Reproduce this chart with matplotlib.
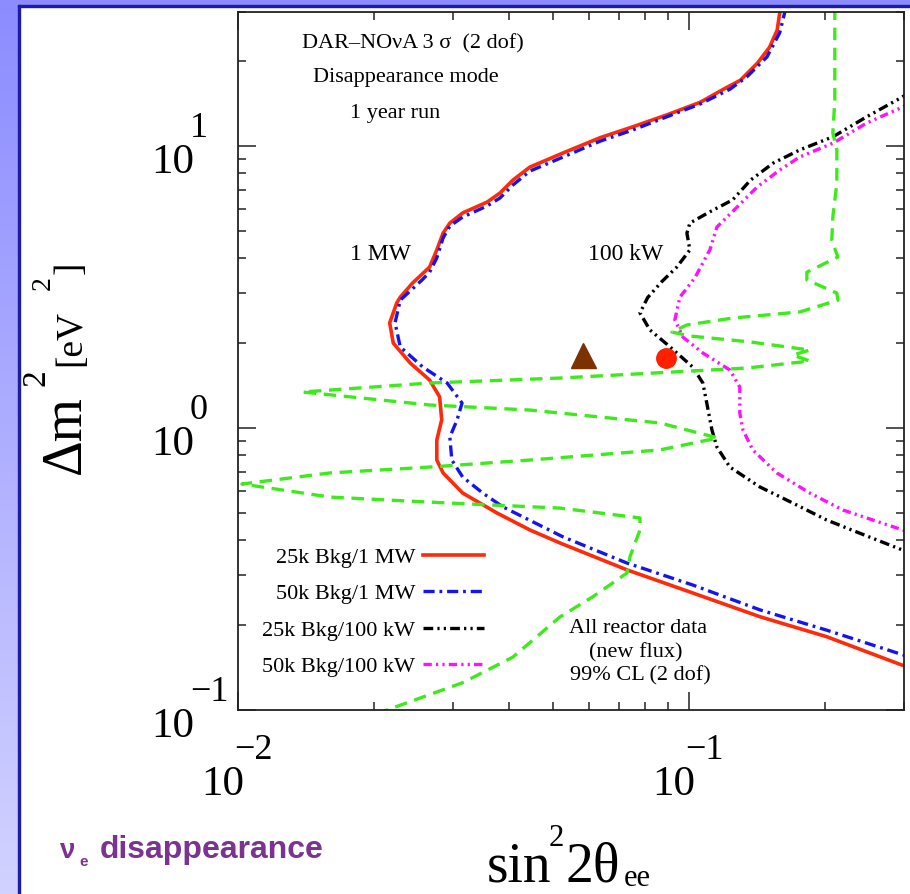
import matplotlib
matplotlib.use('Agg')
import matplotlib.pyplot as plt
import matplotlib.transforms as mtransforms
from matplotlib.colors import LinearSegmentedColormap
from matplotlib.patches import Rectangle
from matplotlib.ticker import LogLocator, NullFormatter
import numpy as np

plt.rcParams['lines.scale_dashes'] = False
plt.rcParams['font.family'] = ['Liberation Serif', 'DejaVu Serif']

# ---- data (sin^2 2theta, dm^2 in eV^2) ----
red_x = [0.160, 0.159, 0.157, 0.151, 0.142, 0.130, 0.121, 0.106, 0.0894, 0.0751, 0.0635,
         0.0526, 0.0444, 0.0407, 0.0381, 0.0357, 0.0315, 0.0295, 0.0285, 0.0276, 0.0266,
         0.0244, 0.0229, 0.0225, 0.0217, 0.0221, 0.0241, 0.0266, 0.0280, 0.0283, 0.0276,
         0.0276, 0.0285, 0.0315, 0.0375, 0.0444, 0.0518, 0.0729, 0.102, 0.144, 0.202, 0.298, 0.31]
red_y = [31.0, 29.6, 25.8, 22.4, 19.7, 17.1, 16.1, 14.3, 12.9, 11.7, 10.7,
         9.45, 8.42, 7.57, 6.81, 6.33, 5.79, 5.33, 4.91, 4.28, 3.72,
         3.27, 2.91, 2.78, 2.36, 2.00, 1.70, 1.48, 1.29, 1.07, 0.906,
         0.770, 0.693, 0.588, 0.500, 0.435, 0.391, 0.314, 0.260, 0.214, 0.182, 0.144, 0.141]

blue_x = [0.164, 0.163, 0.159, 0.149, 0.1345, 0.1233, 0.106, 0.0894, 0.0751, 0.0635, 0.0526,
          0.0444, 0.0407, 0.0381, 0.0357, 0.0315, 0.0295, 0.0285, 0.0276, 0.0266, 0.0256,
          0.0229, 0.0223, 0.0229, 0.0257, 0.0291, 0.0314, 0.0306, 0.0295, 0.0298, 0.0315,
          0.0349, 0.0387, 0.0526, 0.0729, 0.102, 0.144, 0.202, 0.298, 0.31]
blue_y = [31.0, 29.6, 25.2, 20.7, 17.6, 15.9, 14.1, 12.7, 11.4, 10.4, 9.14,
          8.15, 7.27, 6.54, 6.13, 5.60, 5.20, 4.72, 4.01, 3.57, 3.35,
          2.84, 2.36, 1.94, 1.645, 1.444, 1.226, 1.067, 0.929, 0.770, 0.670,
          0.588, 0.525, 0.411, 0.332, 0.2775, 0.2263, 0.192, 0.157, 0.154]

black_x = [0.31, 0.297, 0.248, 0.209, 0.176, 0.154, 0.137, 0.125, 0.111, 0.1005, 0.099,
           0.1005, 0.094, 0.087, 0.081, 0.0779, 0.0819, 0.0908, 0.102, 0.1074, 0.110,
           0.1125, 0.1154, 0.1233, 0.1437, 0.170, 0.202, 0.239, 0.298, 0.31]
black_y = [15.6, 14.9, 12.7, 10.8, 9.68, 8.71, 7.57, 6.44, 5.83, 5.33, 4.91,
           4.28, 3.72, 3.30, 2.90, 2.56, 2.23, 1.94, 1.645, 1.444, 1.187,
           0.984, 0.856, 0.727, 0.618, 0.542, 0.472, 0.424, 0.369, 0.362]

mag_x = [0.31, 0.298, 0.248, 0.209, 0.176, 0.159, 0.1416, 0.128, 0.1154, 0.1113, 0.103,
         0.0955, 0.0931, 0.097, 0.1074, 0.1233, 0.1297, 0.1297, 0.1318, 0.1386, 0.1567,
         0.1855, 0.2196, 0.298, 0.31]
mag_y = [14.3, 13.75, 12.07, 10.25, 9.14, 8.22, 7.15, 6.08, 5.16, 4.28, 3.40,
         2.91, 2.42, 2.10, 1.845, 1.606, 1.398, 1.13, 0.984, 0.836, 0.693,
         0.588, 0.512, 0.435, 0.428]

green_x = [0.2107, 0.2107, 0.2086, 0.2129, 0.2129, 0.2086, 0.2075, 0.2140, 0.1827, 0.1827,
           0.2129, 0.2140, 0.1762, 0.1252, 0.0990, 0.0917, 0.1005, 0.1366, 0.1855, 0.1701,
           0.1855, 0.1345, 0.0518, 0.0266, 0.0139, 0.0266, 0.0444, 0.0862, 0.1160, 0.0862,
           0.0444, 0.0266, 0.0160, 0.0102, 0.0160, 0.0266, 0.0518, 0.0779, 0.0779, 0.0740,
           0.0729, 0.0612, 0.0518, 0.0407, 0.0315, 0.0214, 0.0200]
green_y = [31.0, 14.56, 11.12, 9.68, 7.39, 5.60, 4.64, 4.04, 3.57, 3.35,
           3.01, 2.84, 2.58, 2.455, 2.32, 2.19, 2.12, 2.02, 1.89, 1.815,
           1.728, 1.632, 1.504, 1.444, 1.342, 1.207, 1.158, 1.042, 0.922, 0.836,
           0.770, 0.727, 0.693, 0.633, 0.569, 0.546, 0.520, 0.480, 0.435, 0.349,
           0.306, 0.252, 0.214, 0.154, 0.125, 0.100, 0.096]

tri_x, tri_y = [0.0582], [1.815]
dot_x, dot_y = [0.0889], [1.77]

legend_labels = ['25k Bkg/1 MW', '50k Bkg/1 MW', '25k Bkg/100 kW', '50k Bkg/100 kW']
ytick_vals = [0.1, 1, 10]
ytick_exp = ['\u22121', '0', '1']
xtick_vals = [0.01, 0.1]
xtick_exp = ['\u22122', '\u22121']

W, H = 910, 894
fig = plt.figure(figsize=(W / 100, H / 100), dpi=100)
fig.patch.set_facecolor('white')

# slide frame: light blue strips with a dark blue edge
bg = fig.add_axes([0, 0, 18 / W, 1])
slide_cm = LinearSegmentedColormap.from_list('slide', ['#8c8cff', '#d2d2ff'])
bg.imshow(np.linspace(0, 1, 256)[:, None], aspect='auto', cmap=slide_cm, extent=[0, 1, 0, 1])
bg.axis('off')
fig.patches.append(Rectangle((0, 1 - 5 / H), 1, 5 / H, transform=fig.transFigure,
                             color='#8c8cff', zorder=0))
fig.patches.append(Rectangle((18 / W, 0), 2.2 / W, 1 - 5 / H, transform=fig.transFigure,
                             color='#1c1ca8', zorder=1))
fig.patches.append(Rectangle((18 / W, 1 - 7.2 / H), 1, 2.2 / H, transform=fig.transFigure,
                             color='#1c1ca8', zorder=1))

ax = fig.add_axes([238 / W, 1 - 710 / H, 666 / W, (710 - 11.5) / H])
ax.set_xscale('log')
ax.set_yscale('log')

l_red, = ax.plot(red_x, red_y, color='#ff2a0a', lw=2.6, ls='-')
l_blue, = ax.plot(blue_x, blue_y, color='#1414f0', lw=2.4, ls=(0, (8, 3.5, 2, 3.5)))
l_black, = ax.plot(black_x, black_y, color='black', lw=2.4, ls=(0, (7, 3, 1.6, 3, 1.6, 3)))
l_mag, = ax.plot(mag_x, mag_y, color='#ff10ff', lw=2.4, ls=(0, (6, 3, 1.6, 3, 1.6, 3)))
ax.plot(green_x, green_y, color='#3dea1a', lw=2.4, ls=(0, (9, 5.5)))
ax.plot(tri_x, tri_y, marker='^', ms=18, color='#7c3200', ls='none', zorder=5)
ax.plot(dot_x, dot_y, marker='o', ms=14, color='#ff2000', ls='none', zorder=5)

ax.set_xlim(0.01, 0.3)
ax.set_ylim(0.1, 30)

ax.xaxis.set_major_locator(LogLocator(base=10))
ax.yaxis.set_major_locator(LogLocator(base=10))
ax.xaxis.set_minor_locator(LogLocator(base=10, subs=np.arange(2, 10)))
ax.yaxis.set_minor_locator(LogLocator(base=10, subs=np.arange(2, 10)))
ax.xaxis.set_minor_formatter(NullFormatter())
ax.yaxis.set_minor_formatter(NullFormatter())
ax.tick_params(which='both', direction='in', top=True, right=True,
               labelbottom=False, labelleft=False, color='#222222', width=1.1)
ax.tick_params(which='major', length=13)
ax.tick_params(which='minor', length=6)
for s in ax.spines.values():
    s.set_linewidth(1.3)
    s.set_color('#222222')

# tick labels drawn as "10" plus a large raised exponent
ty = mtransforms.blended_transform_factory(fig.transFigure, ax.transData)
for v, e in zip(ytick_vals, ytick_exp):
    fig.text(194 / W, v, '10', fontsize=31, ha='right', va='baseline',
             transform=mtransforms.offset_copy(ty, fig, x=0, y=-27, units='dots'))
    fig.text(190 / W, v, e, fontsize=26, ha='left', va='baseline',
             transform=mtransforms.offset_copy(ty, fig, x=0, y=9, units='dots'))
tx = mtransforms.blended_transform_factory(ax.transData, fig.transFigure)
for v, e in zip(xtick_vals, xtick_exp):
    fig.text(v, 1 - 795 / H, '10', fontsize=31, ha='right', va='baseline',
             transform=mtransforms.offset_copy(tx, fig, x=6, y=0, units='dots'))
    fig.text(v, 1 - 759 / H, e, fontsize=26, ha='left', va='baseline',
             transform=mtransforms.offset_copy(tx, fig, x=-4, y=0, units='dots'))


def ftext(px, py, s, **kw):
    kw.setdefault('ha', 'left')
    kw.setdefault('va', 'baseline')
    return fig.text(px / W, 1 - py / H, s, **kw)


# axis titles
ftext(487, 881, 'sin', fontsize=40)
ftext(549, 846, '2', fontsize=22)
ftext(566, 881, '2\u03b8', fontsize=40)
ftext(624, 886, 'ee', fontsize=22)

rot = dict(rotation=90, rotation_mode='anchor')
ftext(80, 474, '\u0394m', fontsize=40, **rot)
ftext(45, 386, '2', fontsize=24, **rot)
ftext(80, 366, '[eV', fontsize=27, **rot)
ftext(50, 290, '2', fontsize=20, **rot)
ftext(80, 274, ']', fontsize=27, **rot)

# annotations inside the plot
ftext(302, 48, 'DAR\u2013NO\u03bdA 3 \u03c3  (2 dof)', fontsize=16)
ftext(406, 82, 'Disappearance mode', fontsize=16, ha='center')
ftext(395, 118, '1 year run', fontsize=16, ha='center')
ftext(350, 260, '1 MW', fontsize=17)
ftext(588, 260, '100 kW', fontsize=17)
ftext(638, 633, 'All reactor data', fontsize=16, ha='center')
ftext(636, 657, '(new flux)', fontsize=16, ha='center')
ftext(640, 680, '99% CL (2 dof)', fontsize=16, ha='center')

ax.legend([l_red, l_blue, l_black, l_mag], legend_labels, markerfirst=False, frameon=False,
          fontsize=16, handlelength=2.75, handletextpad=0.35, labelspacing=0.72,
          borderpad=0, borderaxespad=0, loc='upper right',
          bbox_to_anchor=(484 / W, 1 - 547 / H), bbox_transform=fig.transFigure)

# slide caption
ftext(60, 858, '\u03bd', fontsize=20, color='#7a3390', fontweight='bold', family='Liberation Sans')
ftext(79, 866, 'e', fontsize=11, color='#7a3390', fontweight='bold', family='Liberation Sans')
ftext(100, 858, 'disappearance', fontsize=23, color='#7a3390', fontweight='bold',
      family='Liberation Sans')

fig.savefig('out.png', dpi=100)
